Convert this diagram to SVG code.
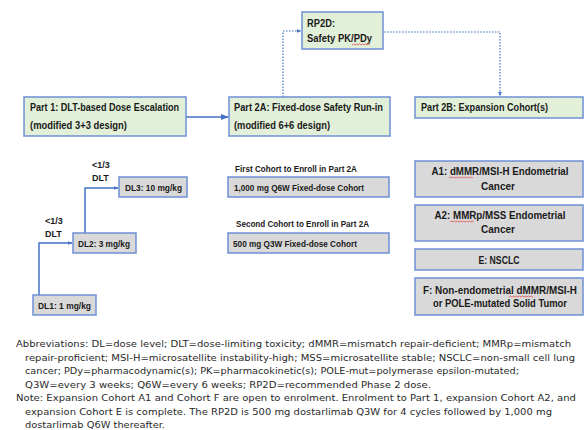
<svg xmlns="http://www.w3.org/2000/svg" width="584" height="430" viewBox="0 0 584 430">
<defs>
<style>
.g{fill:#e2efd9;stroke:#6f90d4;stroke-width:1.5}
.b{fill:#d9d9d9;stroke:#6f90d4;stroke-width:1.5}
.t{font-family:"Liberation Sans",Arial,sans-serif;font-weight:700;font-size:10px;fill:#1a1a1a}
.s{font-family:"Liberation Sans",Arial,sans-serif;font-weight:700;font-size:9px;fill:#1a1a1a}
.c{text-anchor:middle}
.n{font-family:"DejaVu Sans",Verdana,sans-serif;font-size:9.4px;fill:#2a2a2a}
.line{fill:none;stroke:#4472c4;stroke-width:1.5}
.dot{fill:none;stroke:#4472c4;stroke-width:1.2;stroke-dasharray:1.6 1.4}
.sq{fill:none;stroke:#e05050;stroke-width:0.8}
</style>
<marker id="ah" viewBox="0 0 10 10" refX="9" refY="5" markerWidth="5" markerHeight="5" orient="auto" markerUnits="userSpaceOnUse"><path d="M0,1 L10,5 L0,9 z" fill="#4472c4"/></marker>
<marker id="ahb" viewBox="0 0 10 10" refX="9" refY="5" markerWidth="8" markerHeight="8" orient="auto" markerUnits="userSpaceOnUse"><path d="M0,1 L10,5 L0,9 z" fill="#4472c4"/></marker>
</defs>

<g id="connectors">
<path class="line" d="M186,117 L228,117" stroke-width="2.2" marker-end="url(#ahb)"/>
<path class="dot" d="M283,97 L283,31 L301,31" marker-end="url(#ah)"/>
<path class="dot" d="M384,32 L500,32 L500,96" marker-end="url(#ah)"/>
<path class="line" d="M39,295 L39,243 L72,243" marker-end="url(#ah)"/>
<path class="line" d="M85,233 L85,188 L118,188" marker-end="url(#ah)"/>
</g>

<g id="part1">
<rect class="g" x="24" y="97" width="162" height="39"/>
<text class="t" x="30" y="110.5" textLength="149" lengthAdjust="spacingAndGlyphs">Part 1: DLT-based Dose Escalation</text>
<text class="t" x="30" y="128.5" textLength="97" lengthAdjust="spacingAndGlyphs">(modified 3+3 design)</text>
</g>

<g id="part2a">
<rect class="g" x="229" y="97" width="161" height="39"/>
<text class="t" x="234" y="110.5" textLength="149" lengthAdjust="spacingAndGlyphs">Part 2A: Fixed-dose Safety Run-in</text>
<text class="t" x="234" y="128.5" textLength="96" lengthAdjust="spacingAndGlyphs">(modified 6+6 design)</text>
</g>

<g id="rp2d">
<rect class="g" x="302" y="12" width="81" height="37"/>
<text class="t" x="307" y="27" textLength="28" lengthAdjust="spacingAndGlyphs">RP2D:</text>
<text class="t" x="307" y="42" textLength="65" lengthAdjust="spacingAndGlyphs">Safety PK/PDy</text>
<path class="sq" d="M352,45 l1.5,-1 l1.5,1 l1.5,-1 l1.5,1 l1.5,-1 l1.5,1 l1.5,-1 l1.5,1 l1.5,-1 l1.5,1 l1.5,-1 l1.5,1"/>
</g>

<g id="part2b">
<rect class="g" x="415" y="97" width="168" height="21"/>
<text class="t" x="421" y="111" textLength="127" lengthAdjust="spacingAndGlyphs">Part 2B: Expansion Cohort(s)</text>
</g>

<g id="dl3">
<rect class="b" x="119" y="177" width="68" height="20"/>
<text class="s" x="125" y="191" textLength="57" lengthAdjust="spacingAndGlyphs">DL3: 10 mg/kg</text>
</g>
<g id="dl2">
<rect class="b" x="73" y="233" width="63" height="20"/>
<text class="s" x="78" y="247" textLength="52" lengthAdjust="spacingAndGlyphs">DL2: 3 mg/kg</text>
</g>
<g id="dl1">
<rect class="b" x="33" y="295" width="63" height="20"/>
<text class="s" x="38" y="308.5" textLength="53" lengthAdjust="spacingAndGlyphs" font-size="8px">DL1: 1 mg/kg</text>
</g>

<g id="dlt-labels">
<text class="s" x="92" y="168">&lt;1/3</text>
<text class="s" x="92" y="181">DLT</text>
<text class="s" x="45" y="224">&lt;1/3</text>
<text class="s" x="45" y="237">DLT</text>
</g>

<g id="cohort1">
<text class="s" x="235" y="172" textLength="122" lengthAdjust="spacingAndGlyphs">First Cohort to Enroll in Part 2A</text>
<rect class="b" x="228" y="177" width="161" height="20"/>
<text class="s" x="234" y="191" textLength="130" lengthAdjust="spacingAndGlyphs">1,000 mg Q6W Fixed-dose Cohort</text>
</g>
<g id="cohort2">
<text class="s" x="236" y="227" textLength="133" lengthAdjust="spacingAndGlyphs">Second Cohort to Enroll in Part 2A</text>
<rect class="b" x="228" y="233" width="161" height="20"/>
<text class="s" x="233" y="246.5" textLength="124" lengthAdjust="spacingAndGlyphs">500 mg Q3W Fixed-dose Cohort</text>
</g>

<g id="a1">
<rect class="b" x="415" y="161" width="168" height="36"/>
<text class="t c" x="500" y="175" textLength="137" lengthAdjust="spacingAndGlyphs">A1: dMMR/MSI-H Endometrial</text>
<text class="t c" x="498" y="190">Cancer</text>
<path class="sq" d="M449,178 l1.5,-1 l1.5,1 l1.5,-1 l1.5,1 l1.5,-1 l1.5,1 l1.5,-1 l1.5,1 l1.5,-1 l1.5,1 l1.5,-1 l1.5,1 l1.5,-1 l1.5,1 l1.5,-1 l1.5,1"/>
</g>
<g id="a2">
<rect class="b" x="415" y="205" width="168" height="36"/>
<text class="t c" x="500" y="219" textLength="131" lengthAdjust="spacingAndGlyphs">A2: MMRp/MSS Endometrial</text>
<text class="t c" x="498" y="233">Cancer</text>
<path class="sq" d="M450,222 l1.5,-1 l1.5,1 l1.5,-1 l1.5,1 l1.5,-1 l1.5,1 l1.5,-1 l1.5,1 l1.5,-1 l1.5,1 l1.5,-1 l1.5,1 l1.5,-1 l1.5,1 l1.5,-1 l1.5,1"/>
</g>
<g id="e">
<rect class="b" x="415" y="249" width="168" height="21"/>
<text class="t c" x="499" y="264" textLength="41" lengthAdjust="spacingAndGlyphs">E: NSCLC</text>
</g>
<g id="f">
<rect class="b" x="415" y="278" width="168" height="37"/>
<text class="t c" x="500" y="294" textLength="154" lengthAdjust="spacingAndGlyphs">F: Non-endometrial dMMR/MSI-H</text>
<text class="t c" x="500" y="307" textLength="134" lengthAdjust="spacingAndGlyphs">or  POLE-mutated Solid Tumor</text>
<path class="sq" d="M509,297 l1.5,-1 l1.5,1 l1.5,-1 l1.5,1 l1.5,-1 l1.5,1 l1.5,-1 l1.5,1 l1.5,-1 l1.5,1 l1.5,-1 l1.5,1 l1.5,-1 l1.5,1 l1.5,-1 l1.5,1"/>
</g>

<g id="notes">
<text class="n" x="16" y="347" textLength="555" lengthAdjust="spacingAndGlyphs">Abbreviations: DL=dose level; DLT=dose-limiting toxicity; dMMR=mismatch repair-deficient; MMRp=mismatch</text>
<text class="n" x="25" y="360.5" textLength="550" lengthAdjust="spacingAndGlyphs">repair-proficient; MSI-H=microsatellite instability-high; MSS=microsatellite stable; NSCLC=non-small cell lung</text>
<text class="n" x="25" y="374" textLength="494" lengthAdjust="spacingAndGlyphs">cancer; PDy=pharmacodynamic(s); PK=pharmacokinetic(s); POLE-mut=polymerase epsilon-mutated;</text>
<text class="n" x="25" y="387.5" textLength="406" lengthAdjust="spacingAndGlyphs">Q3W=every 3 weeks; Q6W=every 6 weeks; RP2D=recommended Phase 2 dose.</text>
<text class="n" x="16" y="401" textLength="560" lengthAdjust="spacingAndGlyphs">Note: Expansion Cohort A1 and Cohort F are open to enrolment. Enrolment to Part 1, expansion Cohort A2, and</text>
<text class="n" x="25" y="414.5" textLength="527" lengthAdjust="spacingAndGlyphs">expansion Cohort E is complete. The RP2D is 500 mg dostarlimab Q3W for 4 cycles followed by 1,000 mg</text>
<text class="n" x="25" y="428" textLength="140" lengthAdjust="spacingAndGlyphs">dostarlimab Q6W thereafter.</text>
</g>
</svg>
